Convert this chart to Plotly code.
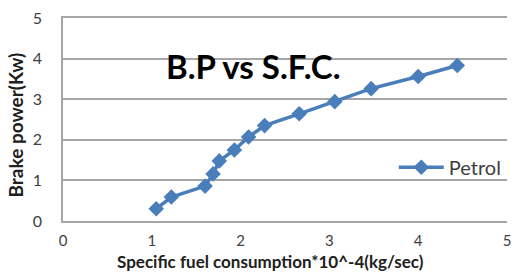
import plotly.graph_objects as go

sfc = [1.05, 1.22, 1.60, 1.69, 1.76, 1.93, 2.09, 2.27, 2.66, 3.06, 3.47, 4.00, 4.44]
bp = [0.30, 0.59, 0.86, 1.16, 1.48, 1.75, 2.07, 2.35, 2.64, 2.94, 3.26, 3.56, 3.83]
series_name = "Petrol"
title_text = "B.P vs S.F.C."
x_title = "Specific fuel consumption*10^-4(kg/sec)"
y_title = "Brake power(Kw)"

blue = "#4A7EBB"
font = "Lato, Open Sans, sans-serif"
grid = "#A6A6A6"

fig = go.Figure()
fig.add_trace(go.Scatter(
    x=sfc, y=bp, name=series_name, mode="lines+markers",
    line=dict(color=blue, width=3.5),
    marker=dict(symbol="diamond", size=12, color=blue),
))

fig.update_layout(
    width=513, height=272,
    margin=dict(l=63, r=6, t=18, b=51, autoexpand=False),
    paper_bgcolor="white", plot_bgcolor="white",
    font=dict(family=font, color="#404040", size=15),
    showlegend=True,
    legend=dict(x=0.745, y=0.265, xanchor="left", yanchor="middle",
                bgcolor="rgba(0,0,0,0)", font=dict(size=20, color="#404040"),
                itemwidth=45, tracegroupgap=0),
    annotations=[
        dict(text="<b>" + title_text + "</b>", x=0.43, y=0.87,
             xref="paper", yref="paper", showarrow=False,
             font=dict(size=33, color="black", family=font)),
        dict(text="<b>" + x_title + "</b>", x=0.468, y=-0.2,
             xref="paper", yref="paper", showarrow=False,
             xanchor="center", yanchor="middle",
             font=dict(size=17, color="#202020", family=font)),
        dict(text="<b>" + y_title + "</b>", x=-0.107, y=0.473,
             xref="paper", yref="paper", showarrow=False, textangle=-90,
             xanchor="center", yanchor="middle",
             font=dict(size=19, color="#202020", family=font)),
    ],
)
fig.update_xaxes(range=[0, 5], dtick=1, showgrid=False, zeroline=False,
                 showline=True, mirror=True, linecolor=grid, linewidth=1.5,
                 ticks="", ticklabelstandoff=5, automargin=False,
                 ticklabeloverflow="allow",
                 tickfont=dict(size=15, color="#404040"))
fig.update_yaxes(range=[0, 5], dtick=1, showgrid=True, gridcolor=grid,
                 gridwidth=1.5, zeroline=False, showline=True,
                 linecolor=grid, linewidth=1.5, ticks="", automargin=False,
                 ticklabelstandoff=16, tickfont=dict(size=16, color="#404040"))

fig.write_html("out.html",
               config={"displayModeBar": False},
               post_script="document.body.style.margin='0';document.body.style.overflow='hidden';")
